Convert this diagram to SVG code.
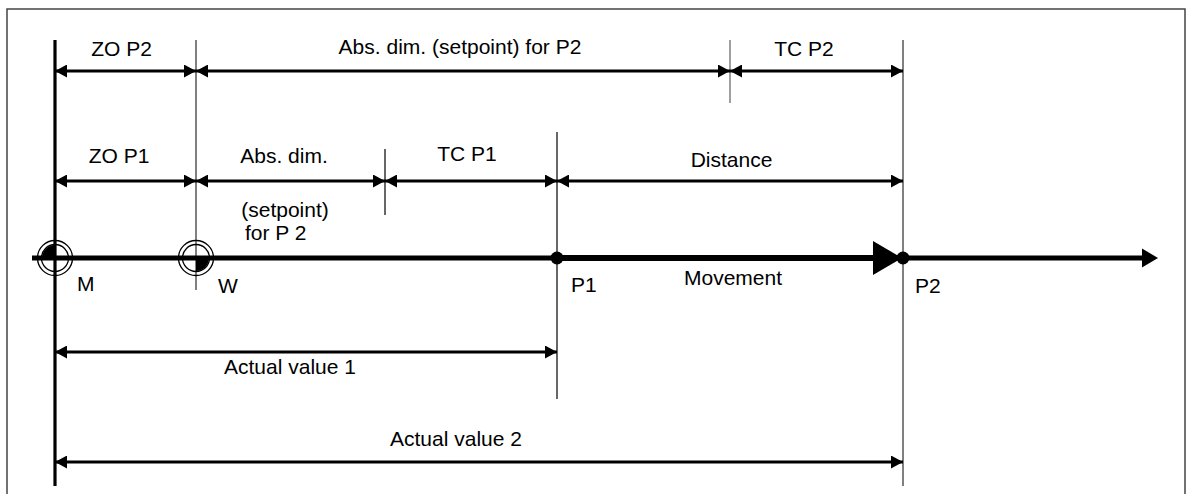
<svg xmlns="http://www.w3.org/2000/svg" width="1190" height="494" viewBox="0 0 1190 494">
<style>
text{font-family:"Liberation Sans",Arial,sans-serif;font-size:21px;fill:#000}
.c{text-anchor:middle}
.dim{stroke:#000;stroke-width:3;fill:none;marker-start:url(#ah);marker-end:url(#ah)}
.ref{stroke:#808080;stroke-width:2;fill:none}
.thin{stroke:#000;stroke-width:1.2;fill:none}
</style>
<defs>
<marker id="ah" viewBox="0 0 12 13" refX="12" refY="6.5" markerWidth="12" markerHeight="13" markerUnits="userSpaceOnUse" orient="auto-start-reverse">
<path d="M0,0 L12,6.5 L0,13 Z" fill="#000"/>
</marker>
</defs>
<rect width="1190" height="494" fill="#fff"/>
<path d="M7,500 V9 H1185 V500" fill="none" stroke="#444" stroke-width="1.5"/>

<g id="reference-lines">
<line x1="55" y1="40" x2="55" y2="486" stroke="#000" stroke-width="3.2"/>
<line class="ref" x1="196" y1="40" x2="196" y2="290"/>
<line class="ref" x1="730" y1="40" x2="730" y2="103" style="stroke-width:1.5"/>
<line class="thin" x1="385" y1="149" x2="385" y2="215"/>
<line class="thin" x1="557" y1="132" x2="557" y2="399"/>
<line class="ref" x1="903" y1="40" x2="903" y2="486"/>
</g>

<g id="connectors">
<line class="dim" x1="55" y1="71" x2="196" y2="71"/>
<line class="dim" x1="196" y1="71" x2="730" y2="71"/>
<line class="dim" x1="730" y1="71" x2="903" y2="71"/>
<line class="dim" x1="55" y1="181" x2="196" y2="181"/>
<line class="dim" x1="196" y1="181" x2="385" y2="181"/>
<line class="dim" x1="385" y1="181" x2="557" y2="181"/>
<line class="dim" x1="557" y1="181" x2="903" y2="181"/>
<line class="dim" x1="55" y1="352" x2="557" y2="352"/>
<line class="dim" x1="55" y1="462" x2="903" y2="462"/>
</g>

<g id="axis">
<line x1="32" y1="258" x2="1143" y2="258" stroke="#000" stroke-width="5"/>
<polygon points="1142,248.5 1158,258 1142,267.5" fill="#000"/>
</g>

<g id="movement">
<line x1="557" y1="258" x2="875" y2="258" stroke="#000" stroke-width="6"/>
<polygon points="873,241 902,258 873,275" fill="#000"/>
<text class="c" x="733" y="285">Movement</text>
</g>

<g id="node-M">
<path d="M55,258 L55,245 A13,13 0 0 0 42,258 Z" fill="#000"/>
<circle cx="55" cy="258" r="13.5" fill="none" stroke="#000" stroke-width="1.3"/>
<circle cx="55" cy="258" r="17.5" fill="none" stroke="#000" stroke-width="1.3"/>
<text x="77" y="291">M</text>
</g>

<g id="node-W">
<path d="M196,258 L196,271 A13,13 0 0 0 209,258 Z" fill="#000"/>
<circle cx="196" cy="258" r="13.5" fill="none" stroke="#000" stroke-width="1.3"/>
<circle cx="196" cy="258" r="17.5" fill="none" stroke="#000" stroke-width="1.3"/>
<text x="218" y="293">W</text>
</g>

<g id="node-P1">
<circle cx="557" cy="258" r="6.5" fill="#000"/>
<text x="571" y="292">P1</text>
</g>

<g id="node-P2">
<circle cx="903" cy="258" r="6.5" fill="#000"/>
<text x="915" y="293">P2</text>
</g>

<g id="labels">
<text class="c" x="121.5" y="56">ZO P2</text>
<text class="c" x="460" y="54">Abs. dim. (setpoint) for P2</text>
<text class="c" x="804" y="56">TC P2</text>
<text class="c" x="119" y="163">ZO P1</text>
<text class="c" x="284" y="163">Abs. dim.</text>
<text class="c" x="285" y="217">(setpoint)</text>
<text x="245" y="240">for P 2</text>
<text class="c" x="467" y="161">TC P1</text>
<text class="c" x="731.5" y="167">Distance</text>
<text class="c" x="290" y="374">Actual value 1</text>
<text class="c" x="456" y="446">Actual value 2</text>
</g>
</svg>
